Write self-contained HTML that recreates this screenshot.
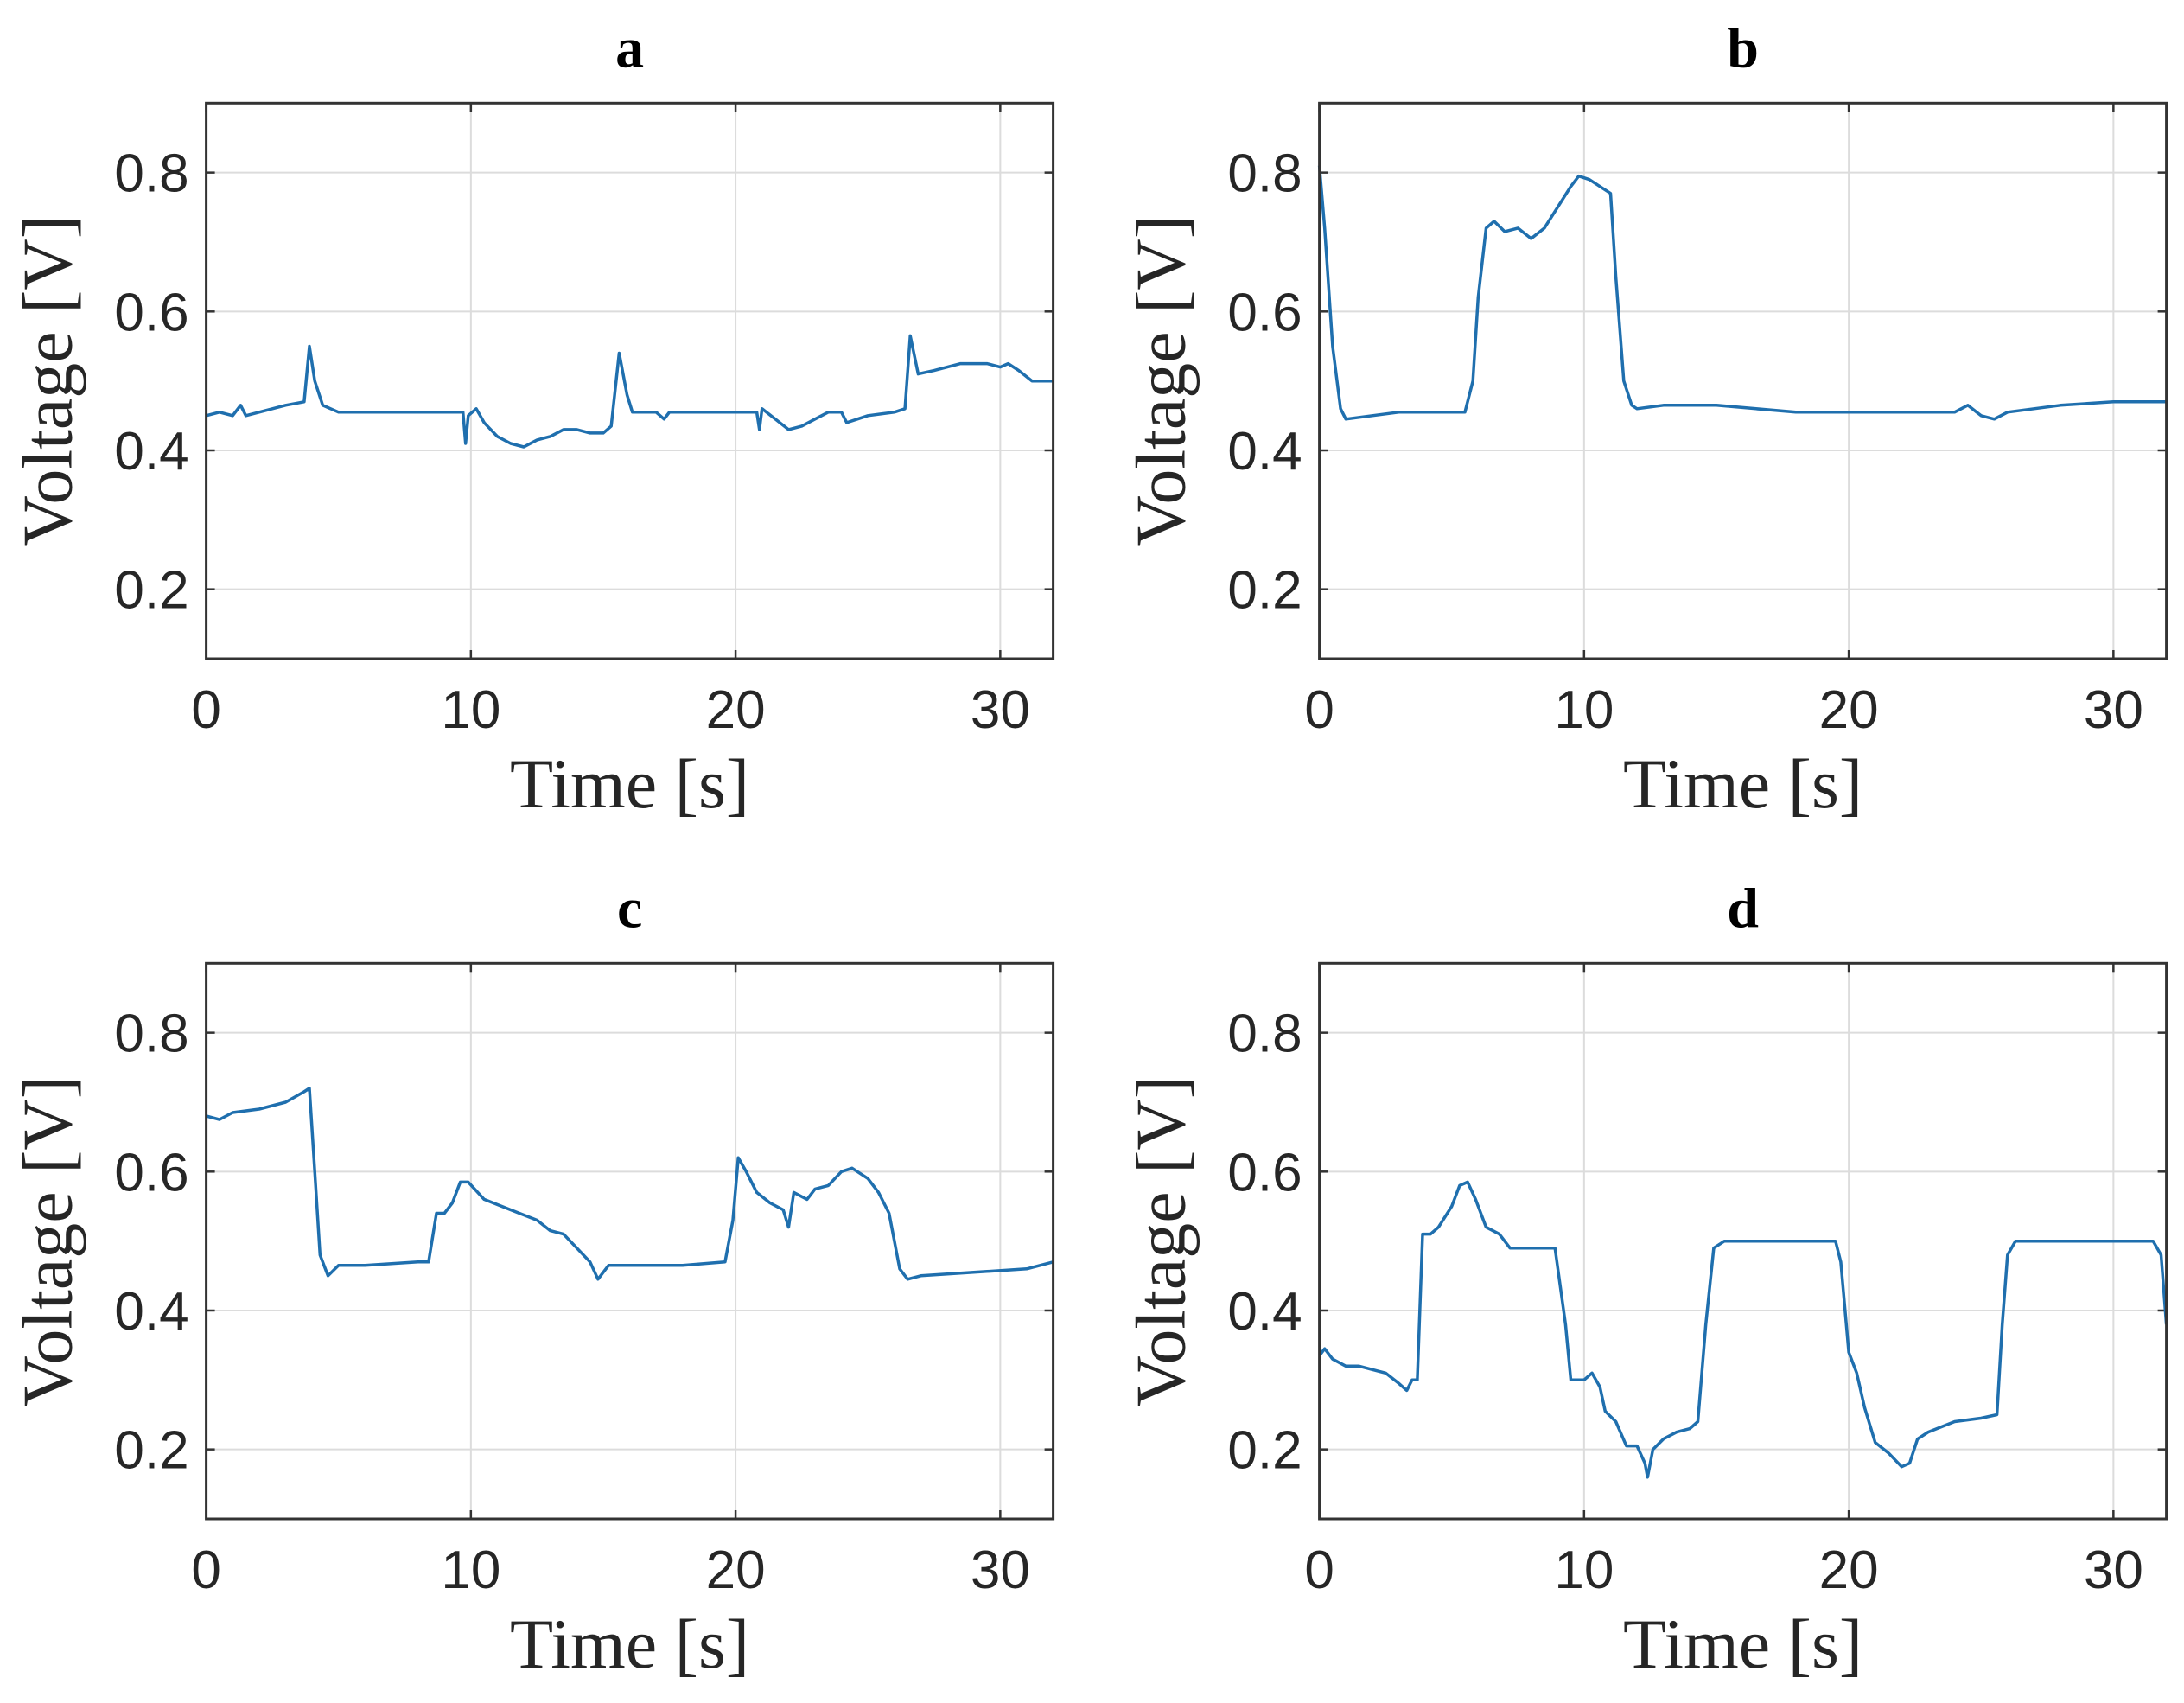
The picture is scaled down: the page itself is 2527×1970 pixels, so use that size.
<!DOCTYPE html>
<html><head><meta charset="utf-8"><style>
html,body{margin:0;padding:0;background:#fff;}
svg{display:block;}
</style></head><body>
<svg id="fig" width="2527" height="1970" viewBox="0 0 2527 1970" xmlns="http://www.w3.org/2000/svg"></svg>
<script>
const xTicks=[0,10,20,30];
const yTicks=[0.2,0.4,0.6,0.8];
const yTickLabels=["0.2","0.4","0.6","0.8"];
const panelTitles=["a","b","c","d"];
const tA=[0,0.5,1,1.3,1.5,2,2.5,3,3.7,3.9,4.1,4.4,5,7,9.7,9.8,9.9,10.2,10.5,11,11.5,12,12.5,13,13.5,14,14.5,15,15.3,15.6,15.9,16.1,17,17.3,17.5,20,20.8,20.9,21,21.5,22,22.5,23,23.5,24,24.2,24.6,25,26,26.4,26.6,26.9,27.5,28.5,29.5,30,30.3,30.7,31.2,32];
const vA=[.45,.455,.45,.465,.45,.455,.46,.465,.47,.55,.5,.465,.455,.455,.455,.41,.45,.46,.44,.42,.41,.405,.415,.42,.43,.43,.425,.425,.435,.54,.48,.455,.455,.445,.455,.455,.455,.43,.46,.445,.43,.435,.445,.455,.455,.44,.445,.45,.455,.46,.565,.51,.515,.525,.525,.52,.525,.515,.5,.5];
const tB=[0,0.2,0.5,0.8,1,2,3,4,5.5,5.8,6,6.3,6.6,7,7.5,8,8.5,9,9.5,9.8,10.2,10.6,11,11.2,11.5,11.8,12,13,15,16.5,18,20,24,24.5,25,25.5,26,28,30,32];
const vB=[.81,.72,.55,.46,.445,.45,.455,.455,.455,.5,.62,.72,.73,.715,.72,.705,.72,.75,.78,.795,.79,.78,.77,.65,.5,.465,.46,.465,.465,.46,.455,.455,.455,.465,.45,.445,.455,.465,.47,.47];
const tC=[0,0.5,1,2,3,3.7,3.9,4.1,4.3,4.6,5,6,8,8.4,8.7,9,9.3,9.6,9.9,10.5,11.5,12.5,13,13.5,14,14.5,14.8,15.2,16,18,19.6,19.9,20.1,20.4,20.8,21.3,21.8,22,22.2,22.7,23,23.5,24,24.4,25,25.4,25.8,26.2,26.5,27,29,31,32];
const vC=[.68,.675,.685,.69,.70,.715,.72,.6,.48,.45,.465,.465,.47,.47,.54,.54,.555,.585,.585,.56,.545,.53,.515,.51,.49,.47,.445,.465,.465,.465,.47,.53,.62,.6,.57,.555,.545,.52,.57,.56,.575,.58,.6,.605,.59,.57,.54,.46,.445,.45,.455,.46,.47];
const tD=[0,0.2,0.5,1,1.5,2,2.5,3,3.3,3.5,3.7,3.9,4.2,4.5,5,5.3,5.6,5.9,6.3,6.8,7.2,8,8.9,9.3,9.5,10,10.3,10.6,10.8,11.2,11.6,12,12.3,12.4,12.6,13,13.5,14,14.3,14.6,14.9,15.3,17,19.5,19.7,20,20.3,20.6,21,21.5,22,22.3,22.6,23,24,25,25.6,25.8,26,26.3,28,31.5,31.8,32];
const vD=[.335,.345,.33,.32,.32,.315,.31,.295,.285,.3,.3,.51,.51,.52,.55,.58,.585,.56,.52,.51,.49,.49,.49,.38,.3,.3,.31,.29,.255,.24,.205,.205,.18,.16,.2,.215,.225,.23,.24,.38,.49,.5,.5,.5,.47,.34,.31,.26,.21,.195,.175,.18,.215,.225,.24,.245,.25,.38,.48,.5,.5,.5,.48,.38];
const seriesT=[tA,tB,tC,tD], seriesV=[vA,vB,vC,vD];

const NS="http://www.w3.org/2000/svg";
const svg=document.getElementById('fig');
function mk(tag,attrs,parent){const e=document.createElementNS(NS,tag);for(const k in attrs)e.setAttribute(k,attrs[k]);(parent||svg).appendChild(e);return e;}
const W=980, H=642.7, XMAX=32, YMIN=0.1, YMAX=0.9;
const origins=[[238.6,119.3],[1526.6,119.3],[238.6,1114.3],[1526.6,1114.3]];
const sans='"Liberation Sans", Arial, sans-serif', serif='"Liberation Serif", "Times New Roman", serif';
origins.forEach((o,i)=>{
  const [ox,oy]=o;
  const xs=t=>ox+t/XMAX*W, ys=v=>oy+(YMAX-v)/(YMAX-YMIN)*H;
  const g=mk('g',{});
  
  
  const gr=mk('g',{},g);
  
  
  xTicks.forEach(t=>{ if(t>0){const l=mk('line',{x1:xs(t),x2:xs(t),y1:oy,y2:oy+H,stroke:'#dcdcdc','stroke-width':2},gr);}});
  yTicks.forEach(v=>{const l=mk('line',{x1:ox,x2:ox+W,y1:ys(v),y2:ys(v),stroke:'#dcdcdc','stroke-width':2},gr);});
  xTicks.forEach(t=>{mk('line',{x1:xs(t),x2:xs(t),y1:oy+H,y2:oy+H-10,stroke:'#333','stroke-width':2.5},g);mk('line',{x1:xs(t),x2:xs(t),y1:oy,y2:oy+10,stroke:'#333','stroke-width':2.5},g);
    const tx=mk('text',{x:xs(t),y:oy+H+80,'text-anchor':'middle','font-family':sans,'font-size':62,fill:'#262626'},g);tx.textContent=String(t);
    });
  yTicks.forEach((v,k)=>{mk('line',{x1:ox,x2:ox+10,y1:ys(v),y2:ys(v),stroke:'#333','stroke-width':2.5},g);mk('line',{x1:ox+W,x2:ox+W-10,y1:ys(v),y2:ys(v),stroke:'#333','stroke-width':2.5},g);
    const tx=mk('text',{x:ox-20,y:ys(v)+22,'text-anchor':'end','font-family':sans,'font-size':62,fill:'#262626'},g);tx.textContent=yTickLabels[k];
    });
  const T=seriesT[i],V=seriesV[i];
  const d=T.map((t,k)=>(k?'L':'M')+xs(t).toFixed(1)+' '+ys(V[k]).toFixed(1)).join(' ');
  const p=mk('path',{d:d,fill:'none',stroke:'#1f6fae','stroke-width':3.5,'stroke-linejoin':'round'},g);
  
  
  const box=mk('rect',{x:ox,y:oy,width:W,height:H,fill:'none',stroke:'#333','stroke-width':3},g);
  
  
  const ti=mk('text',{x:ox+W/2,y:oy-42,'text-anchor':'middle','font-family':serif,'font-weight':'bold','font-size':66,fill:'#000'},g);ti.textContent=panelTitles[i];
  
  
  const xl=mk('text',{x:ox+W/2,y:oy+H+172,'text-anchor':'middle','font-family':serif,'font-size':82,fill:'#262626'},g);xl.textContent='Time [s]';
  
  
  const yl=mk('text',{x:0,y:0,'text-anchor':'middle','font-family':serif,'font-size':82,fill:'#262626',transform:`translate(${ox-156},${oy+H/2}) rotate(-90)`},g);yl.textContent='Voltage [V]';
  
  
});
</script>
</body></html>
